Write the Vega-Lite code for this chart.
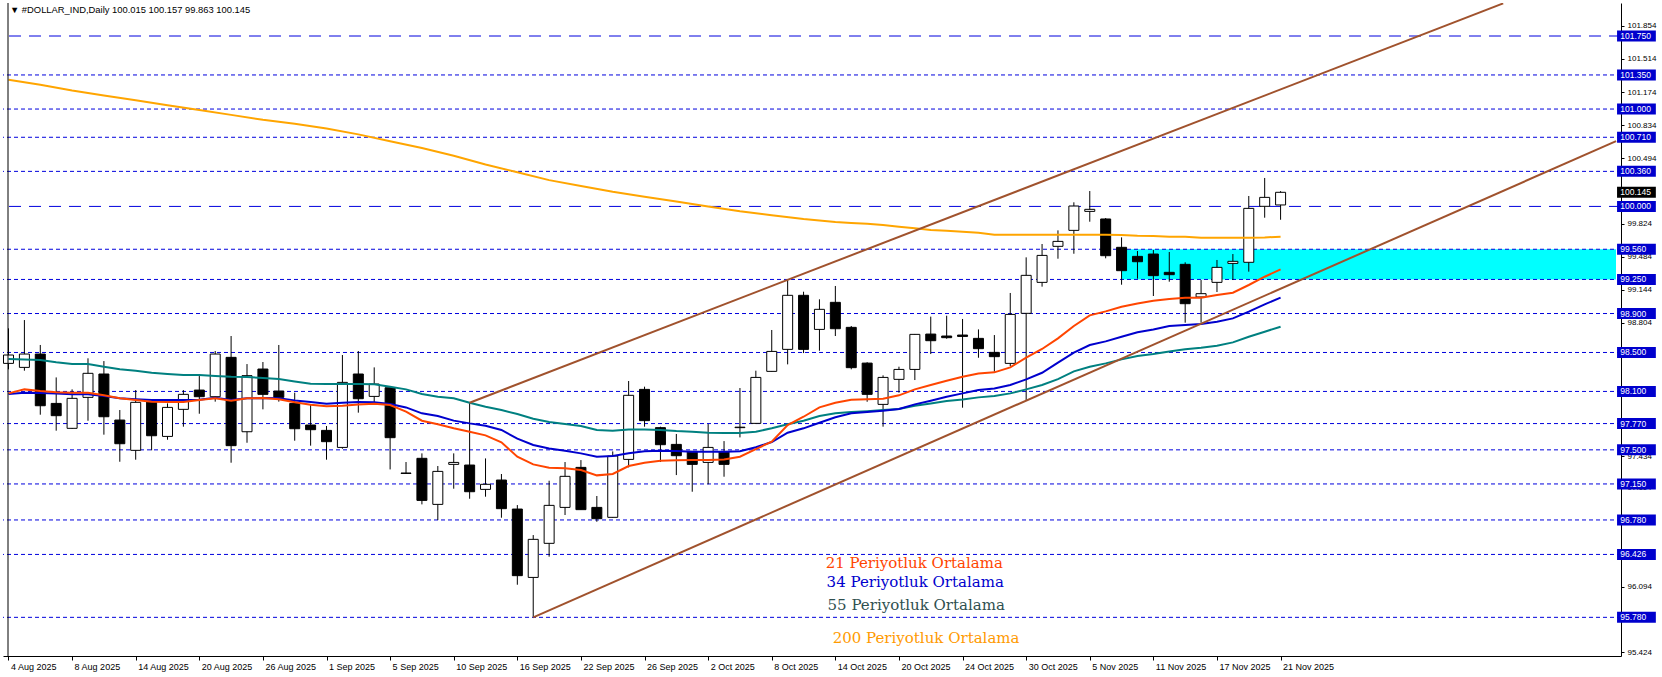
{
"$schema":"https://vega.github.io/schema/vega-lite/v6.json",
"width":1618,"height":653,
"autosize":{"type":"none"},
"padding":{"left":3,"top":3,"right":41,"bottom":21},
"background":"white",
"config":{"view":{"stroke":null},"axis":{"grid":false}},
"datasets":{
"bars":[
{"i":0,"o":98.388,"h":98.748,"l":98.327,"c":98.474,"m21":98.080,"m34":98.073,"m55":98.433,"m200":101.30},
{"i":1,"o":98.347,"h":98.833,"l":98.313,"c":98.484,"m21":98.121,"m34":98.087,"m55":98.429},
{"i":2,"o":98.484,"h":98.577,"l":97.861,"c":97.953,"m21":98.104,"m34":98.084,"m55":98.423,"m200":101.25},
{"i":3,"o":97.977,"h":98.244,"l":97.697,"c":97.851,"m21":98.091,"m34":98.080,"m55":98.399},
{"i":4,"o":97.721,"h":98.121,"l":97.715,"c":98.029,"m21":98.087,"m34":98.070,"m55":98.381,"m200":101.19},
{"i":5,"o":98.039,"h":98.440,"l":97.799,"c":98.286,"m21":98.087,"m34":98.070,"m55":98.381},
{"i":6,"o":98.279,"h":98.412,"l":97.656,"c":97.840,"m21":98.060,"m34":98.053,"m55":98.354,"m200":101.14},
{"i":7,"o":97.806,"h":97.909,"l":97.378,"c":97.563,"m21":98.029,"m34":98.029,"m55":98.327},
{"i":8,"o":97.495,"h":98.114,"l":97.399,"c":97.988,"m21":98.012,"m34":98.019,"m55":98.313,"m200":101.09},
{"i":9,"o":97.994,"h":98.004,"l":97.495,"c":97.645,"m21":97.995,"m34":98.012,"m55":98.292},
{"i":10,"o":97.638,"h":97.977,"l":97.604,"c":97.936,"m21":97.991,"m34":98.012,"m55":98.279,"m200":101.04},
{"i":11,"o":97.916,"h":98.114,"l":97.738,"c":98.070,"m21":97.991,"m34":98.012,"m55":98.268},
{"i":12,"o":98.114,"h":98.258,"l":97.871,"c":98.046,"m21":98.012,"m34":98.015,"m55":98.268,"m200":100.99},
{"i":13,"o":98.046,"h":98.515,"l":97.995,"c":98.484,"m21":98.029,"m34":98.036,"m55":98.258},
{"i":14,"o":98.450,"h":98.669,"l":97.368,"c":97.543,"m21":98.005,"m34":98.012,"m55":98.251,"m200":100.94},
{"i":15,"o":97.686,"h":98.381,"l":97.573,"c":98.262,"m21":98.029,"m34":98.029,"m55":98.248},
{"i":16,"o":98.330,"h":98.402,"l":97.916,"c":98.070,"m21":98.032,"m34":98.032,"m55":98.238,"m200":100.89},
{"i":17,"o":98.104,"h":98.577,"l":97.995,"c":98.039,"m21":98.019,"m34":98.029,"m55":98.227},
{"i":18,"o":97.977,"h":98.087,"l":97.594,"c":97.717,"m21":97.988,"m34":98.008,"m55":98.203,"m200":100.85},
{"i":19,"o":97.755,"h":97.970,"l":97.543,"c":97.707,"m21":97.964,"m34":97.991,"m55":98.179},
{"i":20,"o":97.700,"h":97.745,"l":97.399,"c":97.584,"m21":97.947,"m34":97.974,"m55":98.176,"m200":100.80},
{"i":21,"o":97.525,"h":98.474,"l":97.512,"c":98.193,"m21":97.954,"m34":97.984,"m55":98.176},
{"i":22,"o":98.279,"h":98.515,"l":97.882,"c":98.025,"m21":97.967,"m34":97.991,"m55":98.176,"m200":100.74},
{"i":23,"o":98.049,"h":98.347,"l":97.964,"c":98.176,"m21":97.974,"m34":97.988,"m55":98.173},
{"i":24,"o":98.138,"h":98.140,"l":97.299,"c":97.625,"m21":97.960,"m34":97.971,"m55":98.149,"m200":100.67},
{"i":25,"o":97.262,"h":97.375,"l":97.256,"c":97.258,"m21":97.892,"m34":97.936,"m55":98.121},
{"i":26,"o":97.413,"h":97.464,"l":96.940,"c":96.981,"m21":97.799,"m34":97.875,"m55":98.073,"m200":100.60},
{"i":27,"o":96.940,"h":97.334,"l":96.779,"c":97.279,"m21":97.762,"m34":97.847,"m55":98.046},
{"i":28,"o":97.351,"h":97.464,"l":97.101,"c":97.371,"m21":97.721,"m34":97.800,"m55":98.029,"m200":100.52},
{"i":29,"o":97.344,"h":97.984,"l":96.998,"c":97.070,"m21":97.686,"m34":97.772,"m55":97.984},
{"i":30,"o":97.094,"h":97.412,"l":97.019,"c":97.146,"m21":97.649,"m34":97.748,"m55":97.943,"m200":100.43},
{"i":31,"o":97.190,"h":97.252,"l":96.803,"c":96.896,"m21":97.577,"m34":97.704,"m55":97.909},
{"i":32,"o":96.892,"h":96.933,"l":96.115,"c":96.208,"m21":97.430,"m34":97.615,"m55":97.868,"m200":100.35},
{"i":33,"o":96.190,"h":96.625,"l":95.780,"c":96.581,"m21":97.351,"m34":97.550,"m55":97.820},
{"i":34,"o":96.540,"h":97.183,"l":96.403,"c":96.930,"m21":97.317,"m34":97.515,"m55":97.786,"m200":100.27},
{"i":35,"o":96.909,"h":97.375,"l":96.831,"c":97.228,"m21":97.310,"m34":97.491,"m55":97.765},
{"i":36,"o":97.320,"h":97.395,"l":96.886,"c":96.886,"m21":97.293,"m34":97.464,"m55":97.745,"m200":100.21},
{"i":37,"o":96.909,"h":97.026,"l":96.762,"c":96.793,"m21":97.238,"m34":97.430,"m55":97.704},
{"i":38,"o":96.807,"h":97.484,"l":96.805,"c":97.437,"m21":97.252,"m34":97.437,"m55":97.697,"m200":100.15},
{"i":39,"o":97.402,"h":98.207,"l":97.320,"c":98.060,"m21":97.334,"m34":97.464,"m55":97.710},
{"i":40,"o":98.121,"h":98.149,"l":97.738,"c":97.800,"m21":97.368,"m34":97.485,"m55":97.710,"m200":100.10},
{"i":41,"o":97.728,"h":97.738,"l":97.375,"c":97.553,"m21":97.389,"m34":97.491,"m55":97.704},
{"i":42,"o":97.556,"h":97.663,"l":97.241,"c":97.440,"m21":97.392,"m34":97.488,"m55":97.693,"m200":100.05},
{"i":43,"o":97.484,"h":97.486,"l":97.070,"c":97.351,"m21":97.395,"m34":97.481,"m55":97.687},
{"i":44,"o":97.371,"h":97.765,"l":97.146,"c":97.525,"m21":97.395,"m34":97.481,"m55":97.676,"m200":100.00},
{"i":45,"o":97.478,"h":97.590,"l":97.224,"c":97.351,"m21":97.402,"m34":97.481,"m55":97.673},
{"i":46,"o":97.728,"h":98.135,"l":97.628,"c":97.733,"m21":97.430,"m34":97.485,"m55":97.673,"m200":99.95},
{"i":47,"o":97.772,"h":98.313,"l":97.765,"c":98.244,"m21":97.508,"m34":97.526,"m55":97.687},
{"i":48,"o":98.306,"h":98.731,"l":98.304,"c":98.511,"m21":97.584,"m34":97.580,"m55":97.721,"m200":99.91},
{"i":49,"o":98.532,"h":99.244,"l":98.378,"c":99.087,"m21":97.755,"m34":97.676,"m55":97.762},
{"i":50,"o":99.087,"h":99.124,"l":98.494,"c":98.532,"m21":97.840,"m34":97.721,"m55":97.799,"m200":99.87},
{"i":51,"o":98.737,"h":99.046,"l":98.518,"c":98.943,"m21":97.936,"m34":97.779,"m55":97.847},
{"i":52,"o":99.015,"h":99.183,"l":98.669,"c":98.744,"m21":97.984,"m34":97.834,"m55":97.875,"m200":99.84},
{"i":53,"o":98.758,"h":98.772,"l":98.327,"c":98.344,"m21":98.015,"m34":97.875,"m55":97.888,"m200":99.83},
{"i":54,"o":98.391,"h":98.400,"l":97.994,"c":98.070,"m21":98.020,"m34":97.888,"m55":97.897,"m200":99.823},
{"i":55,"o":97.967,"h":98.265,"l":97.738,"c":98.244,"m21":98.025,"m34":97.902,"m55":97.909,"m200":99.809},
{"i":56,"o":98.224,"h":98.354,"l":98.087,"c":98.326,"m21":98.060,"m34":97.919,"m55":97.919,"m200":99.792},
{"i":57,"o":98.326,"h":98.690,"l":98.217,"c":98.686,"m21":98.121,"m34":97.967,"m55":97.953,"m200":99.775},
{"i":58,"o":98.689,"h":98.868,"l":98.484,"c":98.621,"m21":98.166,"m34":98.005,"m55":97.977,"m200":99.758},
{"i":59,"o":98.669,"h":98.878,"l":98.641,"c":98.652,"m21":98.210,"m34":98.046,"m55":98.001,"m200":99.751},
{"i":60,"o":98.679,"h":98.844,"l":97.933,"c":98.665,"m21":98.251,"m34":98.080,"m55":98.018,"m200":99.740},
{"i":61,"o":98.645,"h":98.737,"l":98.446,"c":98.539,"m21":98.285,"m34":98.114,"m55":98.039,"m200":99.730},
{"i":62,"o":98.501,"h":98.679,"l":98.303,"c":98.457,"m21":98.296,"m34":98.131,"m55":98.053,"m200":99.710},
{"i":63,"o":98.388,"h":99.111,"l":98.361,"c":98.891,"m21":98.347,"m34":98.166,"m55":98.080,"m200":99.710},
{"i":64,"o":98.902,"h":99.477,"l":98.012,"c":99.292,"m21":98.446,"m34":98.224,"m55":98.121,"m200":99.710},
{"i":65,"o":99.220,"h":99.614,"l":99.176,"c":99.497,"m21":98.536,"m34":98.292,"m55":98.166,"m200":99.710},
{"i":66,"o":99.590,"h":99.754,"l":99.463,"c":99.641,"m21":98.645,"m34":98.395,"m55":98.227,"m200":99.710},
{"i":67,"o":99.754,"h":100.042,"l":99.514,"c":100.004,"m21":98.772,"m34":98.498,"m55":98.306,"m200":99.710},
{"i":68,"o":99.949,"h":100.158,"l":99.843,"c":99.970,"m21":98.881,"m34":98.577,"m55":98.354,"m200":99.710},
{"i":69,"o":99.871,"h":99.881,"l":99.467,"c":99.494,"m21":98.922,"m34":98.614,"m55":98.388,"m200":99.710},
{"i":70,"o":99.580,"h":99.682,"l":99.196,"c":99.340,"m21":98.970,"m34":98.662,"m55":98.429,"m200":99.706},
{"i":71,"o":99.487,"h":99.542,"l":99.258,"c":99.432,"m21":99.004,"m34":98.707,"m55":98.464,"m200":99.699},
{"i":72,"o":99.511,"h":99.552,"l":99.080,"c":99.289,"m21":99.032,"m34":98.737,"m55":98.484,"m200":99.696},
{"i":73,"o":99.323,"h":99.532,"l":99.227,"c":99.299,"m21":99.049,"m34":98.772,"m55":98.511,"m200":99.689},
{"i":74,"o":99.405,"h":99.426,"l":98.806,"c":99.001,"m21":99.063,"m34":98.782,"m55":98.532,"m200":99.689},
{"i":75,"o":99.070,"h":99.244,"l":98.806,"c":99.104,"m21":99.063,"m34":98.792,"m55":98.549,"m200":99.679},
{"i":76,"o":99.220,"h":99.450,"l":99.121,"c":99.374,"m21":99.090,"m34":98.816,"m55":98.570,"m200":99.679},
{"i":77,"o":99.415,"h":99.511,"l":99.244,"c":99.436,"m21":99.114,"m34":98.850,"m55":98.604,"m200":99.679},
{"i":78,"o":99.426,"h":100.107,"l":99.330,"c":99.980,"m21":99.193,"m34":98.919,"m55":98.662,"m200":99.679},
{"i":79,"o":100.001,"h":100.292,"l":99.884,"c":100.093,"m21":99.278,"m34":98.994,"m55":98.713,"m200":99.682},
{"i":80,"o":100.015,"h":100.157,"l":99.863,"c":100.145,"m21":99.354,"m34":99.063,"m55":98.765,"m200":99.689}
],
"levels":[{"level":101.75},{"level":101.35},{"level":101.0},{"level":100.71},{"level":100.36},{"level":100.0},{"level":99.56},{"level":99.25},{"level":98.9},{"level":98.5},{"level":98.1},{"level":97.77},{"level":97.5},{"level":97.15},{"level":96.78},{"level":96.426},{"level":95.78}],
"zone":[{"from":70,"lo":99.25,"hi":99.56}],
"channel":[{"line":"upper","i":29,"p":97.984},{"line":"upper","i":94,"p":102.085},{"line":"lower","i":33,"p":95.78},{"line":"lower","i":101.1,"p":100.67}],
"notes":[{"ma":"21","t":"21 Periyotluk Ortalama","i":51.39,"p":96.341},{"ma":"34","t":"34 Periyotluk Ortalama","i":51.45,"p":96.146},{"ma":"55","t":"55 Periyotluk Ortalama","i":51.51,"p":95.906},{"ma":"200","t":"200 Periyotluk Ortalama","i":51.83,"p":95.57}],
"price":[{"level":100.145}],
"header":[{"t":"▼ #DOLLAR_IND,Daily  100.015 100.157 99.863 100.145"}]
},
"layer":[
{"data":{"name":"zone"},"mark":{"type":"rect","fill":"#00ffff"},
 "encoding":{"x":{"field":"from","type":"quantitative","scale":{"domain":[-0.031,101.094],"nice":false,"zero":false},"title":null},"x2":{"datum":101.094},
 "y":{"field":"lo","type":"quantitative","scale":{"domain":[95.383,102.089],"nice":false,"zero":false},"title":null},"y2":{"field":"hi"}}},
{"data":{"name":"levels"},"transform":[{"filter":{"not":{"field":"level","oneOf":[101.75,100.0]}}}],
 "mark":{"type":"rule","color":"#0000dd","strokeWidth":1,"strokeDash":[4,3]},
 "encoding":{"y":{"field":"level","type":"quantitative","scale":{"domain":[95.383,102.089],"nice":false,"zero":false},"title":null}}},
{"data":{"name":"levels"},"transform":[{"filter":{"field":"level","oneOf":[101.75,100.0]}}],
 "mark":{"type":"rule","color":"#0000dd","strokeWidth":1,"strokeDash":[12,8]},
 "encoding":{"y":{"field":"level","type":"quantitative","scale":{"domain":[95.383,102.089],"nice":false,"zero":false},"title":null}}},
{"data":{"name":"bars"},"mark":{"type":"rule","color":"black","strokeWidth":1,"clip":true},
 "encoding":{
  "x":{"field":"i","type":"quantitative","scale":{"domain":[-0.031,101.094],"nice":false,"zero":false},"title":null,
   "axis":{"orient":"bottom","values":[0,4,8,12,16,20,24,28,32,36,40,44,48,52,56,60,64,68,72,76,80],
    "labelExpr":"['4 Aug 2025','8 Aug 2025','14 Aug 2025','20 Aug 2025','26 Aug 2025','1 Sep 2025','5 Sep 2025','10 Sep 2025','16 Sep 2025','22 Sep 2025','26 Sep 2025','2 Oct 2025','8 Oct 2025','14 Oct 2025','20 Oct 2025','24 Oct 2025','30 Oct 2025','5 Nov 2025','11 Nov 2025','17 Nov 2025','21 Nov 2025'][round(datum.value/4)]",
    "labelAlign":"left","labelBaseline":"top","labelOffset":2,"labelPadding":2,"tickSize":4,"labelFont":"Liberation Sans","labelFontSize":9,"labelColor":"black","tickColor":"black","domainColor":"black","labelOverlap":false,"labelFlush":false,"title":null}},
  "y":{"field":"l","type":"quantitative","scale":{"domain":[95.383,102.089],"nice":false,"zero":false},"title":null,
   "axis":{"orient":"right","values":[101.854,101.514,101.174,100.834,100.494,99.824,99.484,99.144,98.804,98.464,97.434,97.114,96.094,95.754,95.424],
    "format":".3f","labelFont":"Liberation Sans","labelFontSize":8,"labelColor":"black","tickColor":"black","tickSize":3,"labelPadding":3,"domainColor":"black","labelOverlap":false,"labelFlush":false,"title":null}},
  "y2":{"field":"h"}}},
{"data":{"name":"bars"},"mark":{"type":"bar","width":10,"stroke":"black","strokeWidth":1,"clip":true},
 "encoding":{"x":{"field":"i","type":"quantitative","title":null},"y":{"field":"o","type":"quantitative","title":null},"y2":{"field":"c"},
  "fill":{"condition":{"test":"datum.c >= datum.o","value":"white"},"value":"black"}}},
{"data":{"name":"bars"},"transform":[{"filter":"isValid(datum.m200)"}],"mark":{"type":"line","color":"#ffa500","strokeWidth":2,"clip":true},
 "encoding":{"x":{"field":"i","type":"quantitative","title":null},"y":{"field":"m200","type":"quantitative","title":null}}},
{"data":{"name":"bars"},"mark":{"type":"line","color":"#008080","strokeWidth":2,"clip":true},
 "encoding":{"x":{"field":"i","type":"quantitative","title":null},"y":{"field":"m55","type":"quantitative","title":null}}},
{"data":{"name":"bars"},"mark":{"type":"line","color":"#0000cd","strokeWidth":2,"clip":true},
 "encoding":{"x":{"field":"i","type":"quantitative","title":null},"y":{"field":"m34","type":"quantitative","title":null}}},
{"data":{"name":"bars"},"mark":{"type":"line","color":"#ff4500","strokeWidth":2,"clip":true},
 "encoding":{"x":{"field":"i","type":"quantitative","title":null},"y":{"field":"m21","type":"quantitative","title":null}}},
{"data":{"name":"channel"},"mark":{"type":"line","color":"#a0522d","strokeWidth":2,"clip":true},
 "encoding":{"x":{"field":"i","type":"quantitative","title":null},"y":{"field":"p","type":"quantitative","title":null},"detail":{"field":"line"}}},
{"data":{"name":"notes"},"mark":{"type":"text","align":"left","baseline":"middle","font":"DejaVu Serif","fontSize":15},
 "encoding":{"x":{"field":"i","type":"quantitative","title":null},"y":{"field":"p","type":"quantitative","title":null},"text":{"field":"t"},
  "color":{"field":"ma","type":"nominal","scale":{"domain":["21","34","55","200"],"range":["#ff4500","#0000cd","#2f4f4f","#ff9a00"]},"legend":null}}},
{"data":{"name":"header"},"mark":{"type":"text","align":"left","baseline":"middle","font":"Liberation Sans","fontSize":9.4,"color":"black"},
 "encoding":{"x":{"datum":0.094},"y":{"datum":102.017},"text":{"field":"t"}}},
{"data":{"name":"header"},"mark":{"type":"rule","color":"black","strokeWidth":1},
 "encoding":{"x":{"datum":-0.031}}},
{"data":{"name":"levels"},"mark":{"type":"rule","color":"#0000cd","strokeWidth":11,"strokeCap":"butt"},
 "encoding":{"x":{"datum":101.16},"x2":{"datum":103.6},"y":{"field":"level","type":"quantitative","title":null}}},
{"data":{"name":"levels"},"mark":{"type":"text","align":"left","baseline":"middle","font":"Liberation Sans","fontSize":8.5,"color":"white"},
 "encoding":{"x":{"datum":101.36},"y":{"field":"level","type":"quantitative","title":null},"text":{"field":"level","format":".3f"}}},
{"data":{"name":"price"},"mark":{"type":"rule","color":"black","strokeWidth":11,"strokeCap":"butt"},
 "encoding":{"x":{"datum":101.16},"x2":{"datum":103.6},"y":{"field":"level","type":"quantitative","title":null}}},
{"data":{"name":"price"},"mark":{"type":"text","align":"left","baseline":"middle","font":"Liberation Sans","fontSize":8.5,"color":"white"},
 "encoding":{"x":{"datum":101.36},"y":{"field":"level","type":"quantitative","title":null},"text":{"field":"level","format":".3f"}}}
]
}
